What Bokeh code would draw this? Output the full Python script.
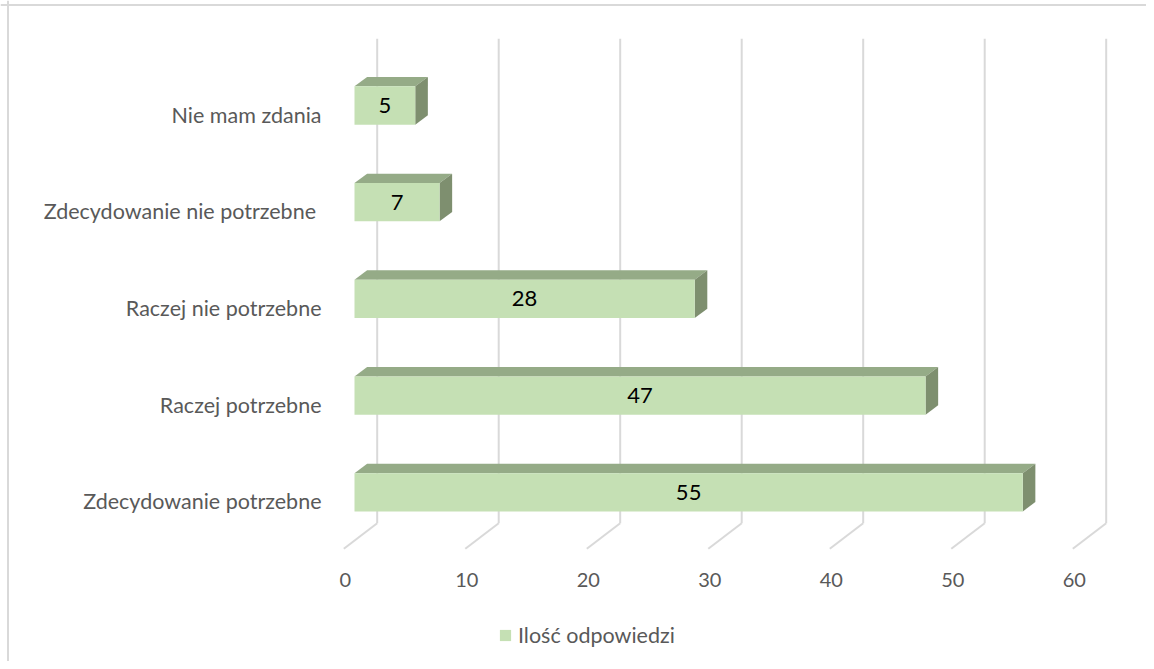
from bokeh.plotting import figure
from bokeh.models import Range1d, Span, Legend, LegendItem, ColumnDataSource
from bokeh.embed import file_html
from bokeh.resources import INLINE
from bokeh.core.properties import value

# ---- data ----
categories = ["Zdecydowanie potrzebne", "Raczej potrzebne", "Raczej nie potrzebne",
              "Zdecydowanie nie potrzebne ", "Nie mam zdania"]
counts = [55, 47, 28, 7, 5]
ticks = [0, 10, 20, 30, 40, 50, 60]
series_name = "Ilość odpowiedzi"

# ---- layout constants (pixels) ----
W, H = 1146, 661
PXX = 12.15      # px per value unit
PXY = 96.7       # px per category step
X0 = 354.0       # frame px of value 0 (front face)
Y0 = 491.8       # frame px from top of first category centre

FONT_NAME = "Lato"
FONT = value(FONT_NAME)
GRAY = "#595959"
GRID = "#d9d9d9"

def ux(px):
    return px / PXX

def uy(px):
    return px / PXY

x_start = -X0 / PXX
x_end = (W - X0) / PXX
y_end = Y0 / PXY
y_start = -(H - Y0) / PXY

p = figure(width=W, height=H, output_backend="svg", toolbar_location=None,
           x_range=Range1d(x_start, x_end), y_range=Range1d(y_start, y_end),
           min_border=0, background_fill_color="white", border_fill_color="white")
p.axis.visible = False
p.xgrid.visible = False
p.ygrid.visible = False
p.outline_line_color = None

# chart border (left & top)
p.add_layout(Span(location=x_start + ux(7.5), dimension="height", line_color=GRID, line_width=2))
p.add_layout(Span(location=y_end - uy(4.5), dimension="width", line_color=GRID, line_width=2))

# ---- back wall gridlines + floor diagonals ----
wall_dx = ux(22.7)
grid_top = (Y0 - 38.3) / PXY
grid_bot = (Y0 - 522.7) / PXY
floor_dx = ux(-33.4)
floor_dy = uy(-25.6)
gx = [t + wall_dx for t in ticks]
p.segment(x0=gx, y0=[grid_top] * len(ticks), x1=gx, y1=[grid_bot] * len(ticks),
          line_color=GRID, line_width=2)
p.segment(x0=gx, y0=[grid_bot] * len(ticks), x1=[g + floor_dx for g in gx],
          y1=[grid_bot + floor_dy] * len(ticks), line_color=GRID, line_width=2)

# tick labels
tick_y = (Y0 - 579.0) / PXY
p.text(x=[t + floor_dx + wall_dx + ux(1.5) for t in ticks], y=[tick_y] * len(ticks),
       text=[str(t) for t in ticks], text_align="center", text_baseline="middle",
       text_font=FONT, text_font_size="20px", text_color=GRAY)

# ---- 3D bars ----
idx = list(range(len(categories)))
hh = uy(19.15)
bdx = ux(12.6)
bdy = uy(9.4)

top_xs, top_ys, side_xs, side_ys = [], [], [], []
for i, v in zip(idx, counts):
    top_xs.append([0, bdx, v + bdx, v])
    top_ys.append([i + hh, i + hh + bdy, i + hh + bdy, i + hh])
    side_xs.append([v, v + bdx, v + bdx, v])
    side_ys.append([i + hh, i + hh + bdy, i - hh + bdy, i - hh])

p.patches(xs=top_xs, ys=top_ys, fill_color="#95AB87", line_color=None)
p.patches(xs=side_xs, ys=side_ys, fill_color="#7E8F6F", line_color=None)
src = ColumnDataSource(dict(y=idx, right=counts, label=[str(c) for c in counts],
                            mid=[c / 2 for c in counts]))
front = p.hbar(y="y", left=0, right="right", height=2 * hh, source=src,
               fill_color="#C5E0B4", line_color=None)

# value labels
p.text(x="mid", y="y", text="label", source=src, text_align="center",
       text_baseline="middle", text_font=FONT, text_font_size="22px", text_color="black")

# category labels
p.text(x=[ux(-33)] * len(idx), y=[i - uy(9) for i in idx], text=categories, text_align="right",
       text_baseline="middle", text_font=FONT, text_font_size="21.5px", text_color=GRAY)

# ---- legend ----
legend = Legend(items=[LegendItem(label=series_name, renderers=[front])],
                location=(498, 13), orientation="horizontal",
                glyph_width=14, glyph_height=14, label_standoff=6,
                label_text_font=FONT_NAME, label_text_font_size="21.5px", label_text_color=GRAY,
                padding=0, margin=0, border_line_color=None, background_fill_alpha=0)
p.add_layout(legend, "center")

open("out.html", "w").write(file_html(p, INLINE))
